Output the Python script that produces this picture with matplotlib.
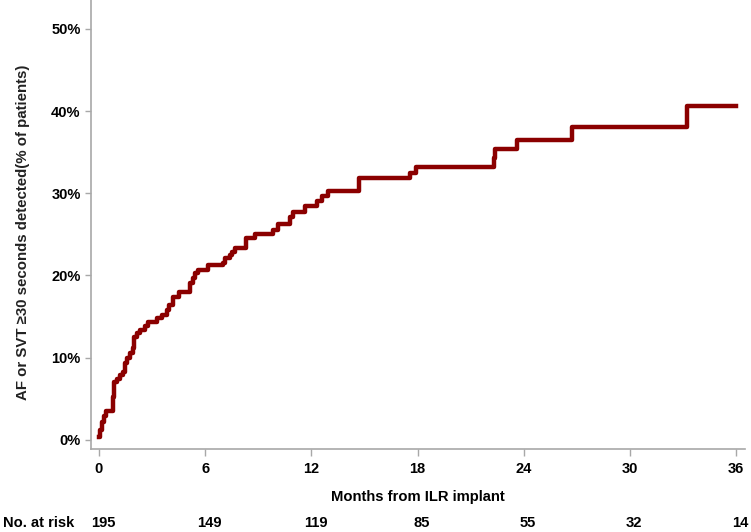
import matplotlib
matplotlib.use("Agg")
import matplotlib.pyplot as plt
import matplotlib.transforms as mtransforms

plt.rcParams['font.family'] = ['Liberation Sans', 'DejaVu Sans']
plt.rcParams['font.weight'] = 'bold'

# Данные
months = [0, 0.06, 0.17, 0.28, 0.4, 0.8, 0.85, 1.0, 1.2, 1.35, 1.47, 1.58,
          1.75, 1.92, 1.98, 2.15, 2.3, 2.6, 2.77, 3.28, 3.56, 3.84, 3.96,
          4.18, 4.52, 5.14, 5.31, 5.43, 5.6, 6.16, 7.0, 7.12, 7.4, 7.52,
          7.69, 8.3, 8.8, 9.84, 10.1, 10.8, 10.97, 11.65, 12.3, 12.6, 12.95,
          14.7, 17.6, 17.9, 22.3, 22.4, 23.6, 26.7, 33.2, 36.0]
percent = [0.3, 1.2, 2.2, 2.9, 3.5, 5.2, 7.1, 7.4, 7.9, 8.3, 9.4, 10.0,
           10.6, 11.2, 12.5, 13.0, 13.4, 13.9, 14.4, 14.8, 15.2, 15.8, 16.4,
           17.4, 18.0, 19.1, 19.7, 20.3, 20.7, 21.3, 21.5, 22.1, 22.5, 22.9,
           23.4, 24.5, 25.1, 25.5, 26.2, 27.1, 27.7, 28.5, 29.0, 29.7, 30.3,
           31.8, 32.5, 33.2, 34.3, 35.4, 36.5, 38.1, 40.6, 40.6]
x_ticks = [0, 6, 12, 18, 24, 30, 36]
y_ticks = [0, 10, 20, 30, 40, 50]
at_risk = [195, 149, 119, 85, 55, 32, 14]

# Создание графика
fig = plt.figure(figsize=(7.51, 5.32), dpi=100)
ax = fig.add_axes([91 / 751, 83 / 532, 654 / 751, 449 / 532])
ax.step(months, percent, where='post', color='#8b0000', linewidth=3.2)

# Настройка графика
ax.set_xlim(-0.45, 36.5)
ax.set_ylim(-1.1, 53.5)
ax.set_xticks(x_ticks)
ax.set_yticks(y_ticks)
ax.set_yticklabels([f'{v}%' for v in y_ticks])
for side in ['top', 'right']:
    ax.spines[side].set_visible(False)
for side in ['left', 'bottom']:
    ax.spines[side].set_color('#a8a8a8')
    ax.spines[side].set_linewidth(1.2)
ax.tick_params(axis='y', length=4.5, width=1, color='#a8a8a8', pad=3,
               labelsize=10.5)
ax.tick_params(axis='x', length=5, width=1, color='#a8a8a8', pad=4.5,
               labelsize=10.5)
ax.set_xlabel('Months from ILR implant', fontsize=10.6, fontweight='bold',
              labelpad=10)
fig.text(23 / 751, 1 - 232 / 532,
         'AF or SVT \u226530 seconds detected(% of patients)',
         rotation=90, ha='center', va='center', fontsize=10.8,
         fontweight='bold', color='#222222')

# Число пациентов под риском
trans = mtransforms.blended_transform_factory(ax.transData, fig.transFigure)
y_risk = 9 / 532
fig.text(3 / 751, y_risk, 'No. at risk', ha='left', va='center',
         fontsize=10.6, fontweight='bold')
for x, n in zip(x_ticks, at_risk):
    ax.text(x + 0.25, y_risk, str(n), transform=trans, ha='center',
            va='center', fontsize=10.6, fontweight='bold', clip_on=False)

plt.savefig('out.png', dpi=100)
